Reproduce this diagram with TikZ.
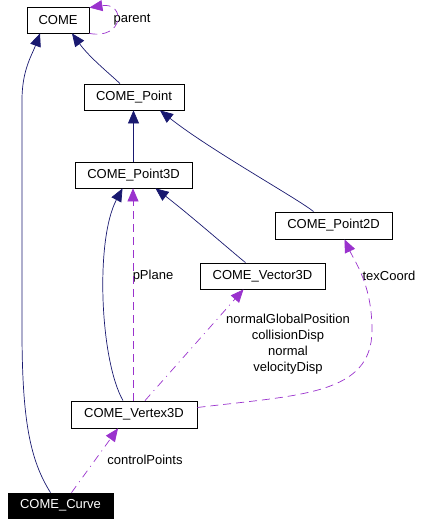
\documentclass[tikz,border=0pt]{standalone}
\usepackage{fontspec}
\setmainfont{Liberation Sans}
\usetikzlibrary{arrows.meta}
\definecolor{navy}{RGB}{25,25,112}
\definecolor{orchid}{RGB}{154,50,205}
\tikzset{
  cls/.style={draw=black, line width=0.8pt, fill=white, inner sep=0pt, font=\fontsize{13}{16}\selectfont},
  hier/.style={draw=navy, line width=0.7pt, -{Triangle[length=13pt,width=11pt,fill=navy]}},
  usesdash/.style={draw=orchid, line width=0.7pt, dash pattern=on 8pt off 5pt, -{Triangle[length=13pt,width=11pt,fill=orchid]}},
  usesdot/.style={draw=orchid, line width=0.7pt, dash pattern=on 8pt off 5pt on 1pt off 5pt, -{Triangle[length=13pt,width=11pt,fill=orchid]}},
  lbl/.style={font=\fontsize{13}{16}\selectfont, inner sep=0pt, align=center}
}
\begin{document}
\begin{tikzpicture}[x=1pt,y=-1pt]
\useasboundingbox (0,0) rectangle (436,525);
\node[cls, minimum width=62pt, minimum height=26pt] (come) at (58,20) {COME};
\node[cls, minimum width=100pt, minimum height=26pt] (pt) at (134,97) {COME\_Point};
\node[cls, minimum width=117pt, minimum height=26pt] (pt3d) at (133.5,175) {COME\_Point3D};
\node[cls, minimum width=117pt, minimum height=27pt] (pt2d) at (333.5,225.5) {COME\_Point2D};
\node[cls, minimum width=125pt, minimum height=26pt] (vec) at (262.5,276) {COME\_Vector3D};
\node[cls, minimum width=126pt, minimum height=27pt] (vtx) at (134,414.5) {COME\_Vertex3D};
\node[cls, fill=black, text=white, minimum width=105pt, minimum height=25pt] (crv) at (60.5,505.5) {COME\_Curve};

% labels
\node[lbl] (lparent) at (132,20) {parent};
\node[lbl] (lpplane) at (153,276) {pPlane};
\node[lbl] (ltex) at (389,276) {texCoord};
\node[lbl] (lvec) at (288,344) {normalGlobalPosition\\collisionDisp\\normal\\velocityDisp};
\node[lbl] (lctrl) at (145,460) {controlPoints};

% inheritance
\draw[hier] ([xshift=-14pt]pt.north) .. controls (110,74) and (90,58) .. ([xshift=14pt]come.south);
\draw[hier] (pt3d.north) -- ([xshift=-0.5pt]pt.south);
\draw[hier] ([xshift=-20pt]pt2d.north) .. controls (300,200) and (210,150) .. ([xshift=26pt]pt.south);
\draw[hier] ([xshift=-17pt]vec.north) .. controls (230,250) and (190,215) .. ([xshift=22pt]pt3d.south);
\draw[hier] ([xshift=-11pt]vtx.north) .. controls (100,360) and (95,240) .. ([xshift=-11pt]pt3d.south);
\draw[hier] ([xshift=-10pt]crv.north) .. controls (30,460) and (22,420) .. (22,330) -- (22,100) .. controls (22,70) and (32,55) .. ([xshift=-18pt]come.south);

% usage
\draw[usesdash] (come.south east) .. controls (124,40) and (126,2) .. ([yshift=-1pt]come.north east);
\draw[usesdash] ([xshift=-1pt]vtx.north) -- ([xshift=-0.5pt]pt3d.south);
\draw[usesdot] ([xshift=11pt]vtx.north) -- ([xshift=-19pt]vec.south);
\draw[usesdash] ([yshift=7pt]vtx.east) .. controls (300,395) and (372,395) .. (372,330) .. controls (372,285) and (355,262) .. ([xshift=11pt]pt2d.south);
\draw[usesdot] ([xshift=11pt]crv.north) -- ([xshift=-16pt]vtx.south);
\end{tikzpicture}
\end{document}
